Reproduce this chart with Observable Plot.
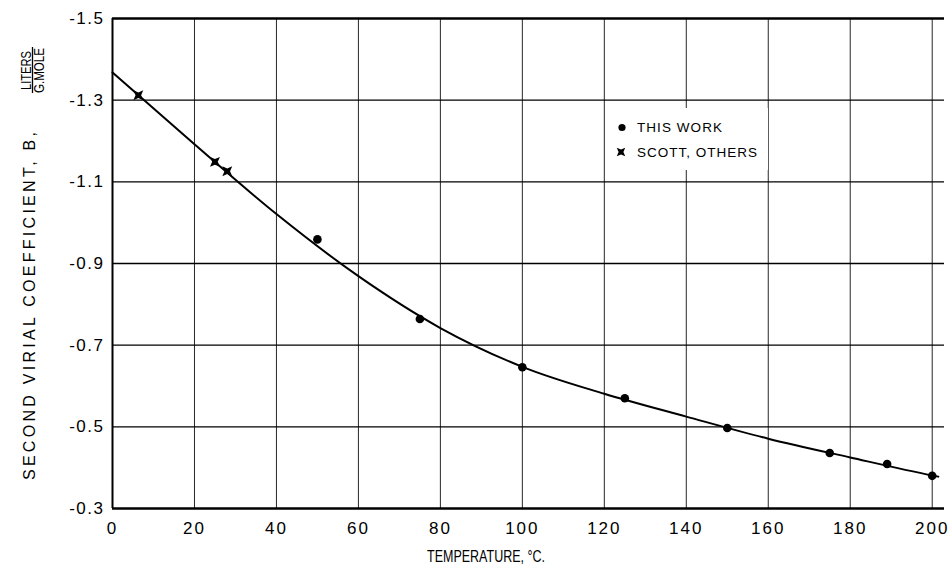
<!DOCTYPE html>
<html><head><meta charset="utf-8">
<script src="https://cdn.jsdelivr.net/npm/d3@7"></script>
<script src="https://cdn.jsdelivr.net/npm/@observablehq/plot@0.6"></script>
<style>
body{margin:0;background:#fff;}
#chart svg{display:block}
#chart g[aria-label="x-axis tick label"] text{letter-spacing:2px}
#chart g[aria-label="y-axis tick label"] text{letter-spacing:1.5px}
</style>
</head><body><div id="chart"></div>
<script>
// Data
const thisWorkT = [50, 75, 100, 125, 150, 175, 189, 200];
const thisWorkB = [-0.959, -0.764, -0.646, -0.570, -0.497, -0.436, -0.409, -0.380];
const scottT = [6.3, 25, 28];
const scottB = [-1.312, -1.149, -1.126];
const curveT = [0, 20, 40, 60, 80, 100, 120, 140, 160, 180, 200, 201.5];
const curveB = [-1.368, -1.192, -1.021, -0.869, -0.742, -0.647, -0.581, -0.525, -0.471, -0.425, -0.381, -0.378];
const xTicks = [0, 20, 40, 60, 80, 100, 120, 140, 160, 180, 200];
const yTicks = [-1.5, -1.3, -1.1, -0.9, -0.7, -0.5, -0.3];
const xGrid = [20, 40, 60, 80, 100, 120, 140, 160, 180, 200];
const yGrid = [-1.3, -1.1, -0.9, -0.7, -0.5];
const legendLabels = ["THIS WORK", "SCOTT, OTHERS"];

const thisWork = thisWorkT.map((t, i) => ({t, b: thisWorkB[i]}));
const scott = scottT.map((t, i) => ({t, b: scottB[i]}));
const curve = curveT.map((t, i) => ({t, b: curveB[i]}));

function starPath(ctx, R, r) {
  for (let i = 0; i < 8; i++) {
    const a = i * Math.PI / 4;
    const rad = i % 2 === 0 ? r : R;
    const px = rad * Math.cos(a), py = rad * Math.sin(a);
    if (i === 0) ctx.moveTo(px, py); else ctx.lineTo(px, py);
  }
  ctx.closePath();
}
const star = {draw(ctx, size) { starPath(ctx, 7, 2.8); }};

const chart = Plot.plot({
  width: 951, height: 570,
  marginTop: 18, marginBottom: 62, marginLeft: 112, marginRight: 7,
  style: {fontFamily: "Liberation Sans", fontSize: "17px", color: "#000", background: "#fff"},
  x: {domain: [0, 203]},
  y: {domain: [-1.5, -0.3], reverse: true},
  marks: [
    Plot.ruleX(xGrid, {stroke: "#000", strokeWidth: 1, strokeOpacity: 0.85}),
    Plot.ruleY(yGrid, {stroke: "#000", strokeWidth: 1.4}),
    Plot.ruleY([-1.5, -0.3], {stroke: "#000", strokeWidth: 2.5}),
    Plot.ruleX([0], {stroke: "#000", strokeWidth: 2}),
    Plot.axisX(xTicks, {tickSize: 0, tickPadding: 13, label: null, tickFormat: d => String(d), fontSize: 17}),
    Plot.axisY(yTicks, {tickSize: 0, tickPadding: 8, label: null, tickFormat: d => "-" + Math.abs(d).toFixed(1), fontSize: 17}),
    Plot.line(curve, {x: "t", y: "b", curve: "monotone-x", stroke: "#000", strokeWidth: 2}),
    Plot.dot(thisWork, {x: "t", y: "b", r: 4.3, fill: "#000"}),
    Plot.dot(scott, {x: "t", y: "b", symbol: star, fill: "#000", r: 4})
  ]
});
document.getElementById("chart").appendChild(chart);

const svg = d3.select(chart);
function addText(sel, opts, txt) {
  const t = sel.append("text").attr("font-family", "Liberation Sans").attr("fill", "#000");
  for (const k in opts) t.attr(k, opts[k]);
  t.text(txt);
  return t;
}
// X axis title
addText(svg, {x: 427, y: 562, "text-anchor": "start", "font-size": 16, textLength: 118, lengthAdjust: "spacingAndGlyphs"}, "TEMPERATURE, °C.");
// Y axis title
addText(svg, {transform: "translate(35,480) rotate(-90)", "text-anchor": "start", "font-size": 16, textLength: 348, lengthAdjust: "spacing"}, "SECOND VIRIAL COEFFICIENT, B,");
addText(svg, {transform: "translate(31,90) rotate(-90)", "text-anchor": "start", "font-size": 14.5, textLength: 39, lengthAdjust: "spacingAndGlyphs"}, "LITERS");
addText(svg, {transform: "translate(44,93) rotate(-90)", "text-anchor": "start", "font-size": 14.5, textLength: 45, lengthAdjust: "spacingAndGlyphs"}, "G.MOLE");
svg.append("line").attr("x1", 32.5).attr("x2", 32.5).attr("y1", 47).attr("y2", 93)
  .attr("stroke", "#000").attr("stroke-width", 1.3);

// Legend
const lg = svg.append("g");
lg.append("rect").attr("x", 612).attr("y", 108).attr("width", 156).attr("height", 62).attr("fill", "#fff");
lg.append("circle").attr("cx", 622).attr("cy", 127.5).attr("r", 3.6).attr("fill", "#000");
const p = d3.path(); starPath(p, 6, 2.4);
lg.append("path").attr("d", p.toString()).attr("transform", "translate(621,152)").attr("fill", "#000");
[[legendLabels[0], 132, 85], [legendLabels[1], 157, 120]].forEach(([t, y, w]) => {
  addText(lg, {x: 637, y, "text-anchor": "start", "font-size": 13.5, textLength: w, lengthAdjust: "spacing"}, t);
});
</script>
</body></html>
